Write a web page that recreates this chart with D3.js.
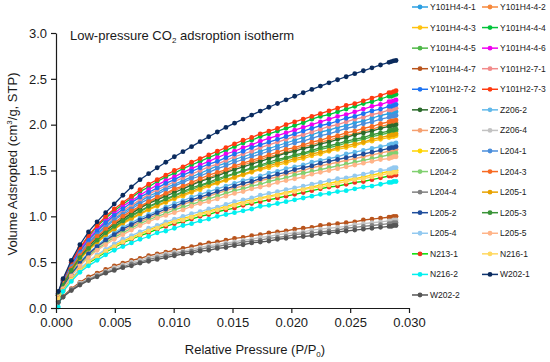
<!DOCTYPE html>
<html>
<head>
<meta charset="utf-8">
<script src="https://cdn.jsdelivr.net/npm/d3@7"></script>
<style>
  body { margin: 0; background: #fff; }
  text { font-family: Arial, "Liberation Sans", sans-serif; fill: #1a1a1a; }
</style>
</head>
<body>
<div id="chart"></div>
<script>
// relative pressure P/P0 of each measurement point
const pressure = [0.0002,0.0006,0.0013,0.00203,0.00276,0.00349,0.00422,0.00495,0.00568,0.00641,0.00714,0.00787,0.0086,0.00933,0.01006,0.01079,0.01152,0.01225,0.01298,0.01371,0.01444,0.01517,0.0159,0.01663,0.01736,0.01809,0.01882,0.01955,0.02028,0.02101,0.02174,0.02247,0.0232,0.02393,0.02466,0.02539,0.02612,0.02685,0.02758,0.0283,0.0285,0.0287,0.0289];

// adsorbed volume, cm3/g STP
const y101h4_4_1 = [.15,.28,.45,.60,.72,.81,.90,.97,1.04,1.10,1.16,1.22,1.26,1.31,1.35,1.39,1.43,1.47,1.51,1.55,1.58,1.62,1.65,1.68,1.71,1.74,1.77,1.80,1.83,1.86,1.89,1.92,1.94,1.97,1.99,2.02,2.04,2.07,2.10,2.12,2.13,2.13,2.14];
const y101h4_4_2 = [.14,.26,.43,.57,.68,.77,.85,.92,.98,1.04,1.10,1.15,1.19,1.24,1.28,1.32,1.35,1.39,1.42,1.46,1.49,1.53,1.56,1.59,1.62,1.65,1.67,1.70,1.73,1.76,1.78,1.81,1.83,1.86,1.88,1.90,1.93,1.95,1.98,2.00,2.01,2.01,2.02];
const y101h4_4_3 = [.13,.24,.40,.53,.63,.71,.79,.86,.92,.97,1.02,1.07,1.11,1.15,1.19,1.22,1.26,1.29,1.33,1.36,1.39,1.42,1.45,1.48,1.51,1.53,1.56,1.58,1.61,1.63,1.66,1.68,1.71,1.73,1.75,1.77,1.80,1.82,1.84,1.86,1.87,1.87,1.88];
const y101h4_4_4 = [.16,.30,.49,.65,.78,.89,.98,1.06,1.13,1.20,1.27,1.32,1.38,1.43,1.47,1.52,1.56,1.60,1.64,1.68,1.72,1.76,1.80,1.83,1.87,1.90,1.93,1.96,1.99,2.02,2.06,2.09,2.11,2.14,2.17,2.20,2.23,2.25,2.28,2.31,2.31,2.32,2.33];
const y101h4_4_5 = [.14,.25,.41,.54,.65,.73,.81,.88,.94,1.00,1.05,1.10,1.14,1.18,1.22,1.26,1.29,1.33,1.36,1.39,1.43,1.46,1.49,1.52,1.55,1.57,1.60,1.63,1.65,1.68,1.70,1.73,1.75,1.77,1.80,1.82,1.84,1.87,1.89,1.91,1.92,1.92,1.93];
const y101h4_4_6 = [.16,.30,.48,.64,.76,.86,.95,1.03,1.11,1.17,1.23,1.29,1.34,1.39,1.43,1.48,1.52,1.56,1.60,1.64,1.68,1.71,1.75,1.78,1.82,1.85,1.88,1.91,1.94,1.97,2.00,2.03,2.06,2.09,2.11,2.14,2.17,2.20,2.22,2.25,2.25,2.26,2.27];
const y101h4_4_7 = [.07,.13,.21,.28,.34,.38,.42,.46,.49,.52,.54,.57,.59,.61,.63,.65,.67,.69,.71,.72,.74,.76,.77,.79,.80,.82,.83,.84,.86,.87,.88,.90,.91,.92,.93,.94,.96,.97,.98,.99,.99,1.00,1.00];
const y101h2_7_1 = [.15,.28,.46,.61,.73,.83,.92,.99,1.06,1.12,1.18,1.24,1.29,1.33,1.38,1.42,1.46,1.50,1.54,1.57,1.61,1.65,1.68,1.71,1.75,1.78,1.81,1.84,1.87,1.89,1.92,1.95,1.98,2.00,2.03,2.06,2.08,2.11,2.13,2.16,2.16,2.17,2.18];
const y101h2_7_2 = [.16,.29,.47,.62,.74,.84,.93,1.01,1.08,1.15,1.21,1.26,1.31,1.36,1.40,1.45,1.49,1.53,1.57,1.60,1.64,1.68,1.71,1.75,1.78,1.81,1.84,1.87,1.90,1.93,1.96,1.99,2.01,2.04,2.07,2.09,2.12,2.15,2.17,2.20,2.20,2.21,2.22];
const y101h2_7_3 = [.17,.31,.50,.66,.79,.90,1.00,1.08,1.15,1.22,1.29,1.35,1.40,1.45,1.50,1.54,1.59,1.63,1.67,1.71,1.75,1.79,1.83,1.86,1.90,1.93,1.96,2.00,2.03,2.06,2.09,2.12,2.15,2.18,2.21,2.23,2.26,2.29,2.32,2.35,2.35,2.36,2.37];
const z206_1 = [.14,.26,.42,.56,.67,.76,.84,.91,.97,1.03,1.09,1.14,1.18,1.22,1.26,1.30,1.34,1.38,1.41,1.44,1.48,1.51,1.54,1.57,1.60,1.63,1.66,1.69,1.71,1.74,1.76,1.79,1.81,1.84,1.86,1.89,1.91,1.93,1.96,1.98,1.99,1.99,2.00];
const z206_2 = [.13,.23,.38,.50,.60,.68,.76,.82,.88,.93,.98,1.02,1.06,1.10,1.14,1.17,1.21,1.24,1.27,1.30,1.33,1.36,1.39,1.41,1.44,1.47,1.49,1.52,1.54,1.56,1.59,1.61,1.63,1.65,1.68,1.70,1.72,1.74,1.76,1.78,1.79,1.79,1.80];
const z206_3 = [.12,.22,.37,.48,.58,.66,.73,.79,.84,.89,.94,.98,1.02,1.06,1.09,1.13,1.16,1.19,1.22,1.25,1.28,1.31,1.33,1.36,1.39,1.41,1.43,1.46,1.48,1.50,1.53,1.55,1.57,1.59,1.61,1.63,1.65,1.67,1.69,1.71,1.72,1.72,1.73];
const z206_4 = [.07,.12,.20,.27,.32,.36,.40,.44,.47,.50,.52,.55,.57,.59,.61,.62,.64,.66,.68,.69,.71,.72,.74,.75,.77,.78,.80,.81,.82,.83,.85,.86,.87,.88,.89,.91,.92,.93,.94,.95,.95,.96,.96];
const z206_5 = [.10,.20,.32,.42,.50,.57,.63,.68,.73,.77,.81,.85,.89,.92,.95,.98,1.00,1.03,1.06,1.08,1.11,1.13,1.16,1.18,1.20,1.22,1.24,1.26,1.28,1.30,1.32,1.34,1.36,1.38,1.40,1.41,1.43,1.45,1.47,1.49,1.49,1.50,1.50];
const l204_1 = [.15,.27,.45,.59,.70,.80,.88,.96,1.02,1.08,1.14,1.19,1.24,1.29,1.33,1.37,1.41,1.44,1.48,1.52,1.55,1.59,1.62,1.65,1.68,1.71,1.74,1.77,1.80,1.82,1.85,1.88,1.90,1.93,1.96,1.98,2.01,2.03,2.06,2.08,2.09,2.09,2.10];
const l204_2 = [.12,.22,.36,.47,.57,.64,.71,.77,.82,.87,.92,.96,1.00,1.03,1.07,1.10,1.13,1.16,1.19,1.22,1.25,1.28,1.30,1.33,1.35,1.38,1.40,1.42,1.45,1.47,1.49,1.51,1.53,1.55,1.57,1.59,1.61,1.63,1.65,1.67,1.68,1.68,1.69];
const l204_3 = [.14,.27,.43,.57,.69,.78,.86,.93,1.00,1.06,1.11,1.16,1.21,1.25,1.30,1.33,1.37,1.41,1.45,1.48,1.51,1.55,1.58,1.61,1.64,1.67,1.70,1.73,1.75,1.78,1.81,1.83,1.86,1.88,1.91,1.93,1.96,1.98,2.01,2.03,2.04,2.04,2.05];
const l204_4 = [.07,.12,.20,.26,.31,.35,.39,.42,.45,.48,.50,.53,.55,.57,.59,.61,.62,.64,.66,.67,.69,.70,.72,.73,.74,.76,.77,.78,.80,.81,.82,.83,.84,.85,.87,.88,.89,.90,.91,.92,.92,.93,.93];
const l205_1 = [.13,.25,.40,.53,.64,.72,.80,.86,.93,.98,1.03,1.08,1.12,1.16,1.20,1.24,1.27,1.31,1.34,1.37,1.40,1.43,1.46,1.49,1.52,1.55,1.58,1.60,1.63,1.65,1.68,1.70,1.72,1.75,1.77,1.79,1.81,1.84,1.86,1.88,1.89,1.89,1.90];
const l205_2 = [.12,.23,.37,.49,.59,.67,.74,.80,.86,.91,.96,1.00,1.04,1.08,1.11,1.15,1.18,1.21,1.24,1.27,1.30,1.33,1.36,1.38,1.41,1.43,1.46,1.48,1.51,1.53,1.55,1.58,1.60,1.62,1.64,1.66,1.68,1.70,1.72,1.74,1.75,1.75,1.76];
const l205_3 = [.14,.25,.41,.55,.65,.74,.82,.89,.95,1.01,1.06,1.11,1.15,1.19,1.23,1.27,1.31,1.34,1.37,1.41,1.44,1.47,1.50,1.53,1.56,1.59,1.62,1.64,1.67,1.69,1.72,1.75,1.77,1.79,1.82,1.84,1.86,1.89,1.91,1.93,1.94,1.94,1.95];
const l205_4 = [.11,.20,.32,.43,.51,.58,.64,.70,.75,.79,.83,.87,.90,.94,.97,1.00,1.03,1.05,1.08,1.10,1.13,1.16,1.18,1.20,1.23,1.25,1.27,1.29,1.31,1.33,1.35,1.37,1.39,1.41,1.42,1.44,1.46,1.48,1.50,1.51,1.52,1.53,1.53];
const l205_5 = [.12,.21,.35,.46,.55,.63,.69,.75,.80,.85,.90,.94,.98,1.01,1.04,1.07,1.11,1.14,1.16,1.19,1.22,1.25,1.27,1.30,1.32,1.34,1.37,1.39,1.41,1.43,1.46,1.48,1.50,1.52,1.54,1.56,1.58,1.60,1.62,1.63,1.64,1.65,1.65];
const n213_1 = [.10,.19,.31,.41,.49,.55,.61,.66,.71,.75,.79,.82,.86,.89,.92,.94,.97,1.00,1.02,1.05,1.07,1.09,1.12,1.14,1.16,1.18,1.20,1.22,1.24,1.26,1.28,1.30,1.32,1.33,1.35,1.37,1.38,1.40,1.42,1.44,1.44,1.45,1.45];
const n216_1 = [.10,.19,.31,.41,.50,.56,.62,.67,.72,.76,.80,.84,.87,.91,.94,.96,.99,1.02,1.04,1.07,1.09,1.12,1.14,1.16,1.19,1.21,1.23,1.25,1.27,1.29,1.31,1.32,1.34,1.36,1.38,1.40,1.41,1.43,1.45,1.47,1.47,1.48,1.48];
const n216_2 = [.01,.18,.29,.39,.46,.52,.58,.63,.67,.71,.75,.78,.82,.84,.87,.90,.92,.95,.97,1.00,1.02,1.04,1.06,1.08,1.11,1.12,1.14,1.16,1.18,1.20,1.22,1.24,1.25,1.27,1.28,1.30,1.32,1.33,1.35,1.37,1.37,1.38,1.38];
const w202_1 = [.18,.32,.52,.69,.83,.94,1.04,1.135,1.23,1.32,1.40,1.465,1.53,1.59,1.65,1.705,1.76,1.815,1.868,1.92,1.97,2.016,2.061,2.105,2.148,2.19,2.231,2.271,2.31,2.348,2.385,2.421,2.456,2.49,2.523,2.556,2.588,2.62,2.651,2.68,2.688,2.696,2.70];
const w202_2 = [.06,.12,.19,.25,.30,.34,.38,.41,.44,.46,.49,.51,.53,.55,.57,.59,.60,.62,.63,.65,.66,.68,.69,.71,.72,.73,.75,.76,.77,.78,.79,.81,.82,.83,.84,.85,.86,.87,.88,.89,.89,.90,.90];

const xTicks = [0, 0.005, 0.010, 0.015, 0.020, 0.025, 0.030];
const yTicks = [0, 0.5, 1.0, 1.5, 2.0, 2.5, 3.0];

// name, line colour, marker colour, data
const series = [
  ['Y101H4-4-1', '#2b9fe2', '#2b9fe2', y101h4_4_1],
  ['Y101H4-4-2', '#f7893b', '#f7893b', y101h4_4_2],
  ['Y101H4-4-3', '#ffc20e', '#ffc20e', y101h4_4_3],
  ['Y101H4-4-4', '#00c43a', '#00c43a', y101h4_4_4],
  ['Y101H4-4-5', '#4fb848', '#4fb848', y101h4_4_5],
  ['Y101H4-4-6', '#f000f0', '#f000f0', y101h4_4_6],
  ['Y101H4-4-7', '#b9541c', '#b9541c', y101h4_4_7],
  ['Y101H2-7-1', '#f28b8b', '#f28b8b', y101h2_7_1],
  ['Y101H2-7-2', '#1c72f2', '#1c72f2', y101h2_7_2],
  ['Y101H2-7-3', '#ff3a10', '#ff3a10', y101h2_7_3],
  ['Z206-1', '#2b6a2b', '#2b6a2b', z206_1],
  ['Z206-2', '#62b9ea', '#62b9ea', z206_2],
  ['Z206-3', '#f5a070', '#f5a070', z206_3],
  ['Z206-4', '#c2c2c2', '#c2c2c2', z206_4],
  ['Z206-5', '#ffd400', '#ffd400', z206_5],
  ['L204-1', '#4a8edc', '#4a8edc', l204_1],
  ['L204-2', '#80d070', '#80d070', l204_2],
  ['L204-3', '#f76a22', '#f76a22', l204_3],
  ['L204-4', '#808080', '#808080', l204_4],
  ['L205-1', '#e8a200', '#e8a200', l205_1],
  ['L205-2', '#1f4e9c', '#1f4e9c', l205_2],
  ['L205-3', '#3a9438', '#3a9438', l205_3],
  ['L205-4', '#92c9f0', '#92c9f0', l205_4],
  ['L205-5', '#ffb488', '#ffb488', l205_5],
  ['N213-1', '#00e000', '#ee3322', n213_1],
  ['N216-1', '#ffd860', '#ffd860', n216_1],
  ['N216-2', '#00f0f0', '#00f0f0', n216_2],
  ['W202-1', '#0d3470', '#0a2a5c', w202_1],
  ['W202-2', '#555555', '#555555', w202_2]
];

const width = 550, height = 362;
const svg = d3.select('#chart').append('svg')
    .attr('width', width)
    .attr('height', height);

const x = d3.scaleLinear().domain([0, 0.03]).range([56, 409]);
const y = d3.scaleLinear().domain([0, 3]).range([308, 33]);

const line = d3.line()
    .x(function(d) { return x(d[0]); })
    .y(function(d) { return y(d[1]); });

let plot = svg.append('g');
series.forEach(function(s) {
  let pts = s[3].map(function(v, i) { return [pressure[i], v]; });
  let g = plot.append('g');
  g.append('path')
      .attr('d', line(pts))
      .attr('fill', 'none')
      .attr('stroke', s[1])
      .attr('stroke-width', 1.3);
  g.selectAll('circle')
      .data(pts)
      .enter()
      .append('circle')
      .attr('cx', function(d) { return x(d[0]); })
      .attr('cy', function(d) { return y(d[1]); })
      .attr('r', 2.4)
      .attr('fill', s[2]);
});

// axes
let xAxis = svg.append('g')
    .attr('transform', 'translate(0,308)')
    .call(d3.axisBottom(x).tickValues(xTicks).tickFormat(d3.format('.3f')).tickSize(5).tickSizeOuter(0).tickPadding(5));
let yAxis = svg.append('g')
    .attr('transform', 'translate(56,0)')
    .call(d3.axisLeft(y).tickValues(yTicks).tickFormat(d3.format('.1f')).tickSize(5).tickSizeOuter(0).tickPadding(4));
[xAxis, yAxis].forEach(function(a) {
  a.selectAll('path, line').attr('stroke', '#1a1a1a').attr('stroke-width', 1.2);
  a.selectAll('text').attr('font-size', 13).attr('fill', '#1a1a1a')
      .style('font-family', 'Arial, "Liberation Sans", sans-serif');
});

// axis titles
let xt = svg.append('text')
    .attr('x', 255)
    .attr('y', 354)
    .attr('text-anchor', 'middle')
    .attr('font-size', 13);
xt.append('tspan').text('Relative Pressure (P/P');
xt.append('tspan').attr('font-size', 8).attr('dy', 3).text('0');
xt.append('tspan').attr('dy', -3).text(')');

let yt = svg.append('text')
    .attr('transform', 'translate(17,164) rotate(-90)')
    .attr('text-anchor', 'middle')
    .attr('font-size', 13);
yt.append('tspan').text('Volume Adsropted (cm');
yt.append('tspan').attr('font-size', 8).attr('dy', -5).text('3');
yt.append('tspan').attr('dy', 5).text('/g, STP)');

let title = svg.append('text')
    .attr('x', 70)
    .attr('y', 40)
    .attr('font-size', 13);
title.append('tspan').text('Low-pressure CO');
title.append('tspan').attr('font-size', 8).attr('dy', 3).text('2');
title.append('tspan').attr('dy', -3).text(' adsroption isotherm');

// legend, two columns
let legend = svg.append('g');
series.forEach(function(s, i) {
  let lx = i % 2 === 0 ? 412 : 482;
  let ly = 7 + Math.floor(i / 2) * 20.57;
  let item = legend.append('g').attr('transform', 'translate(' + lx + ',' + ly + ')');
  item.append('line')
      .attr('x1', 0).attr('x2', 16)
      .attr('stroke', s[1]).attr('stroke-width', 1.5);
  item.append('circle')
      .attr('cx', 8).attr('r', 2.4)
      .attr('fill', s[2]);
  item.append('text')
      .attr('x', 18)
      .attr('dy', '0.35em')
      .attr('font-size', 8.5)
      .text(s[0]);
});
</script>
</body>
</html>
